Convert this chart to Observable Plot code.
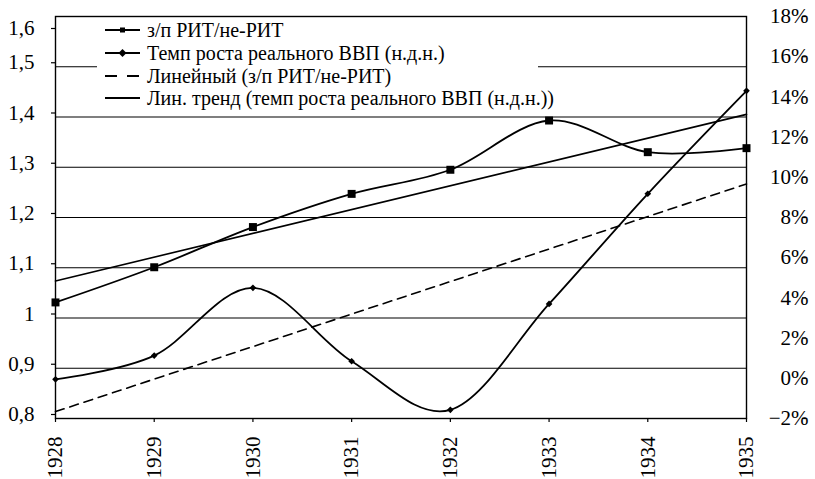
<!DOCTYPE html>
<html><head><meta charset="utf-8">
<script src="https://cdn.jsdelivr.net/npm/d3@7"></script>
<script src="https://cdn.jsdelivr.net/npm/@observablehq/plot@0.6"></script>
<style>
body{margin:0;background:#fff;font-family:'Liberation Serif',serif}
#chart svg text{font-family:'Liberation Serif',serif !important}
</style>
</head><body>
<div id="chart"></div>
<script>
const years = [1928, 1929, 1930, 1931, 1932, 1933, 1934, 1935];
const wageRatio = [1.031, 1.101, 1.181, 1.247, 1.295, 1.393, 1.330, 1.338];
const gdpGrowth = [-0.05, 1.13, 4.5, 0.85, -1.57, 3.7, 9.18, 14.3];
const leftTicks = [0.8, 0.9, 1, 1.1, 1.2, 1.3, 1.4, 1.5, 1.6];
const rightTicks = [-2, 0, 2, 4, 6, 8, 10, 12, 14, 16, 18];
const legendLabels = [
  "з/п РИТ/не-РИТ",
  "Темп роста реального ВВП (н.д.н.)",
  "Линейный (з/п РИТ/не-РИТ)",
  "Лин. тренд (темп роста реального ВВП (н.д.н.))"
];

const toLeft = p => 0.8 + (p + 2) * 0.04;
const wageData = years.map((year, i) => ({year, value: wageRatio[i]}));
const gdpData = years.map((year, i) => ({year, pct: gdpGrowth[i], value: toLeft(gdpGrowth[i])}));

const W = 815, H = 479, mL = 55, mR = 69, mT = 16, mB = 61;
const fmtLeft = v => String(Math.round(v * 10) / 10).replace(".", ",");

const chart = Plot.plot({
  width: W, height: H, marginLeft: mL, marginRight: mR, marginTop: mT, marginBottom: mB,
  style: {fontFamily: "Liberation Serif, serif", fontSize: "21px", background: "#fff", color: "#000", overflow: "visible"},
  x: {domain: [1928, 1935], label: null},
  y: {domain: [0.8, 1.6], label: null},
  marks: [
    Plot.gridY(leftTicks.slice(1, -1), {stroke: "#000", strokeOpacity: 1, strokeWidth: 1.2}),
    Plot.frame({stroke: "#000", strokeWidth: 1.4}),
    Plot.axisY({ticks: leftTicks.slice(0, -1), tickFormat: fmtLeft, label: null,
      tickSize: 4, tickPadding: 17, dy: -4, fontSize: 21, strokeWidth: 1.2}),
    Plot.axisY({ticks: leftTicks.slice(-1), tickFormat: fmtLeft, label: null,
      tickSize: 4, tickPadding: 17, dy: 12, fontSize: 21, strokeWidth: 1.2}),
    Plot.axisY({anchor: "right", ticks: rightTicks.map(toLeft), label: null,
      tickFormat: v => { const p = Math.round((v - 0.8) / 0.04 - 2); return (p < 0 ? "\u2212" + (-p) : p) + "%"; },
      tickSize: 4, tickPadding: 3, textAnchor: "end", dx: 55, fontSize: 21, strokeWidth: 1.2}),
    Plot.axisX({ticks: years, tickFormat: d => String(d), label: null, tickRotate: -90, tickSize: 4, tickPadding: 14, fontSize: 21, strokeWidth: 1.2}),
    Plot.linearRegressionY(gdpData, {x: "year", y: "value", ci: 0, stroke: "#000", strokeWidth: 1.6, strokeDasharray: "9,6"}),
    Plot.linearRegressionY(wageData, {x: "year", y: "value", ci: 0, stroke: "#000", strokeWidth: 1.6}),
    Plot.line(wageData, {x: "year", y: "value", curve: "cardinal", stroke: "#000", strokeWidth: 1.8}),
    Plot.dot(wageData, {x: "year", y: "value", symbol: "square", r: 4.5, fill: "#000", stroke: "none"}),
    Plot.line(gdpData, {x: "year", y: "value", curve: "cardinal", stroke: "#000", strokeWidth: 1.8}),
    Plot.dot(gdpData, {x: "year", y: "value", symbol: "diamond2", r: 3, fill: "#000", stroke: "none"})
  ]
});

// legend drawn inside the svg
const svg = d3.select(chart);
svg.attr("font-family", "Liberation Serif");
const lg = svg.append("g").attr("text-anchor", "start");
lg.append("rect").attr("x", 97).attr("y", 18).attr("width", 441).attr("height", 90).attr("fill", "#fff");
const rowY = [30, 53, 76, 98];
legendLabels.forEach((label, i) => {
  const y = rowY[i];
  const line = lg.append("line").attr("x1", 105).attr("x2", 140).attr("y1", y).attr("y2", y)
    .attr("stroke", "#000").attr("stroke-width", 1.8);
  if (i === 2) line.attr("stroke-dasharray", "12,10");
  if (i === 0) lg.append("rect").attr("x", 120).attr("y", y - 2.5).attr("width", 5).attr("height", 5).attr("fill", "#000");
  if (i === 1) lg.append("path").attr("d", `M122.5,${y - 4}L126.5,${y}L122.5,${y + 4}L118.5,${y}Z`).attr("fill", "#000");
  lg.append("text").attr("x", 147).attr("y", y).attr("dy", "0.35em").attr("fill", "#000")
    .attr("text-anchor", "start").attr("font-size", 20).text(label);
});
svg.selectAll("text").attr("font-family", "Liberation Serif");

document.getElementById("chart").appendChild(chart);
</script>
</body></html>
